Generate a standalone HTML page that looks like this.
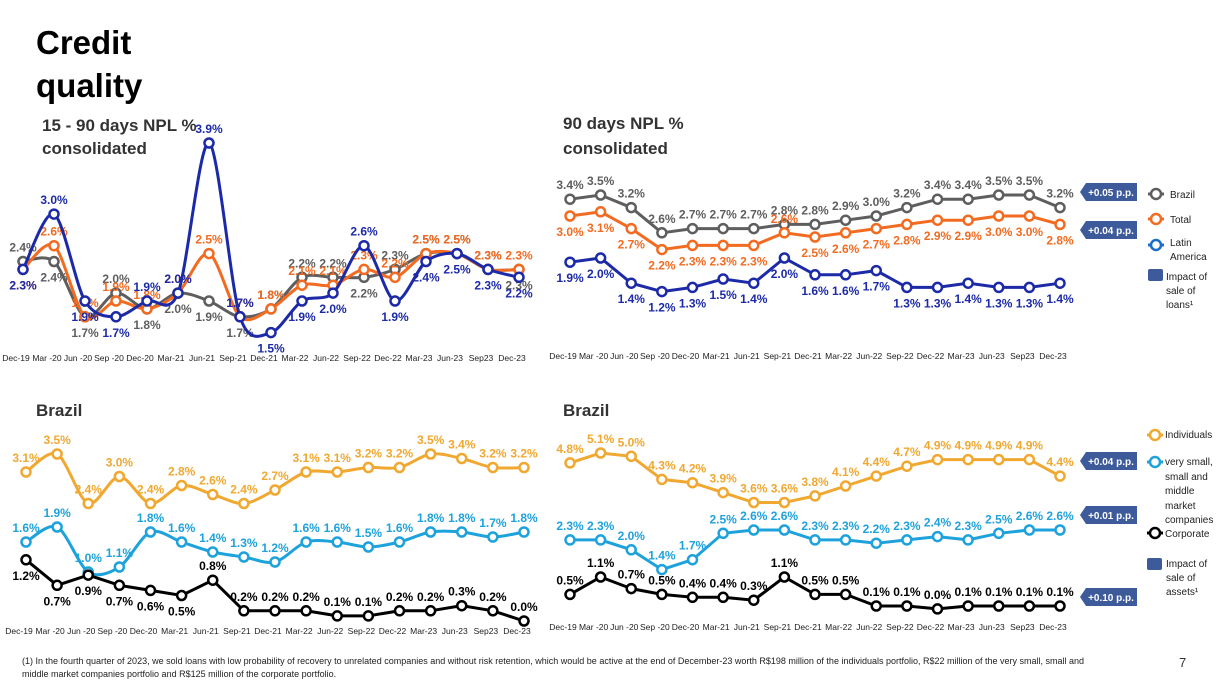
<!DOCTYPE html>
<html><head><meta charset="utf-8"><style>
body{margin:0;width:1218px;height:685px;overflow:hidden;background:#fff;font-family:"Liberation Sans",sans-serif;}
svg{position:absolute;left:0;top:0}
</style></head><body>
<svg id="s" width="1218" height="685" viewBox="0 0 1218 685">
<text x="36" y="54" font-size="33" font-weight="bold" fill="#000">Credit</text>
<text x="36" y="97" font-size="33" font-weight="bold" fill="#000">quality</text>
<text x="42" y="131" font-size="17" font-weight="bold" fill="#333">15 - 90 days NPL %</text>
<text x="42" y="154" font-size="17" font-weight="bold" fill="#333">consolidated</text>
<text x="563" y="129" font-size="17" font-weight="bold" fill="#333">90 days NPL %</text>
<text x="563" y="154" font-size="17" font-weight="bold" fill="#333">consolidated</text>
<text x="36" y="416" font-size="17" font-weight="bold" fill="#333">Brazil</text>
<text x="563" y="416" font-size="17" font-weight="bold" fill="#333">Brazil</text>
<g font-size="9" fill="#222">
<text x="22" y="664">(1) In the fourth quarter of 2023, we sold loans with low probability of recovery to unrelated companies and without risk retention, which would be active at the end of December-23 worth R$198 million of the individuals portfolio, R$22 million of the very small, small and</text>
<text x="22" y="677">middle market companies portfolio and R$125 million of the corporate portfolio.</text>
</g>
<text x="1179" y="667" font-size="13" fill="#333">7</text>
</svg>
<script>
const categories=["Dec-19","Mar -20","Jun -20","Sep -20","Dec-20","Mar-21","Jun-21","Sep-21","Dec-21","Mar-22","Jun-22","Sep-22","Dec-22","Mar-23","Jun-23","Sep23","Dec-23"];
// top-left 15-90 days consolidated
const tlBrazil=[2.4,2.4,1.7,2.0,1.8,2.0,1.9,1.7,1.8,2.2,2.2,2.2,2.3,2.5,2.5,2.3,2.3];
const tlTotal=[2.3,2.6,1.7,1.9,1.8,2.0,2.5,1.7,1.8,2.1,2.1,2.3,2.2,2.5,2.5,2.3,2.3];
const tlLatam=[2.3,3.0,1.9,1.7,1.9,2.0,3.9,1.7,1.5,1.9,2.0,2.6,1.9,2.4,2.5,2.3,2.2];
const tlBrazilPos="abbabbbbaaabaaaab";
const tlTotalPos="baaaaaaaaaaaaaaaa";
const tlLatamPos="babbaaaabbbabbbbb";
// top-right 90 days consolidated
const trBrazil=[3.4,3.5,3.2,2.6,2.7,2.7,2.7,2.8,2.8,2.9,3.0,3.2,3.4,3.4,3.5,3.5,3.2];
const trTotal=[3.0,3.1,2.7,2.2,2.3,2.3,2.3,2.6,2.5,2.6,2.7,2.8,2.9,2.9,3.0,3.0,2.8];
const trLatam=[1.9,2.0,1.4,1.2,1.3,1.5,1.4,2.0,1.6,1.6,1.7,1.3,1.3,1.4,1.3,1.3,1.4];
const trBrazilPos="aaaaaaaaaaaaaaaaa";
const trTotalPos="bbbbbbbabbbbbbbbb";
const trLatamPos="bbbbbbbbbbbbbbbbb";
// bottom-left Brazil 15-90
const blIndividuals=[3.1,3.5,2.4,3.0,2.4,2.8,2.6,2.4,2.7,3.1,3.1,3.2,3.2,3.5,3.4,3.2,3.2];
const blSmes=[1.6,1.9,1.0,1.1,1.8,1.6,1.4,1.3,1.2,1.6,1.6,1.5,1.6,1.8,1.8,1.7,1.8];
const blCorporate=[1.2,0.7,0.9,0.7,0.6,0.5,0.8,0.2,0.2,0.2,0.1,0.1,0.2,0.2,0.3,0.2,0.0];
const blIndividualsPos="aaaaaaaaaaaaaaaaa";
const blSmesPos="aaaaaaaaaaaaaaaaa";
const blCorporatePos="bbbbbbaaaaaaaaaaa";
// bottom-right Brazil 90 days
const brIndividuals=[4.8,5.1,5.0,4.3,4.2,3.9,3.6,3.6,3.8,4.1,4.4,4.7,4.9,4.9,4.9,4.9,4.4];
const brSmes=[2.3,2.3,2.0,1.4,1.7,2.5,2.6,2.6,2.3,2.3,2.2,2.3,2.4,2.3,2.5,2.6,2.6];
const brCorporate=[0.5,1.1,0.7,0.5,0.4,0.4,0.3,1.1,0.5,0.5,0.1,0.1,0.0,0.1,0.1,0.1,0.1];
const brIndividualsPos="aaaaaaaaaaaaaaaaa";
const brSmesPos="aaaaaaaaaaaaaaaaa";
const brCorporatePos="aaaaaaaaaaaaaaaaa";

const NS="http://www.w3.org/2000/svg";
const svg=document.getElementById('s');
function mk(tag,attrs){const e=document.createElementNS(NS,tag);for(const k in attrs)e.setAttribute(k,attrs[k]);return e;}
function xScale(x0,x1){return i=>x0+(x1-x0)*i/(categories.length-1);}
function yScale(v0,y0,k){return v=>y0+(v0-v)*k;}
function smooth(pts){let d="M"+pts[0][0]+","+pts[0][1];for(let i=0;i<pts.length-1;i++){const p0=pts[i-1]||pts[i],p1=pts[i],p2=pts[i+1],p3=pts[i+2]||p2;const t=0.15;d+=" C"+(p1[0]+(p2[0]-p0[0])*t)+","+(p1[1]+(p2[1]-p0[1])*t)+" "+(p2[0]-(p3[0]-p1[0])*t)+","+(p2[1]-(p3[1]-p1[1])*t)+" "+p2[0]+","+p2[1];}return d;}
function series(name,vals,pos,x,y,color,curve,lblColor){
  const g=mk('g',{});
  
  
  svg.appendChild(g);
  const pts=vals.map((v,i)=>[x(i),y(v)]);
  const line=mk('path',{d:curve?smooth(pts):"M"+pts.map(p=>p.join(',')).join(' L'),fill:'none',stroke:color,'stroke-width':3});
  
  
  g.appendChild(line);
  pts.forEach((p,i)=>{
    const c=mk('circle',{cx:p[0],cy:p[1],r:4.5,fill:'#fff',stroke:color,'stroke-width':2.5});
    
    
    g.appendChild(c);
    const t=mk('text',{x:p[0],y:pos[i]==='a'?p[1]-10:p[1]+20,'text-anchor':'middle','font-size':12,'font-weight':'bold',fill:lblColor||color});
    t.textContent=vals[i].toFixed(1)+'%';
    
    
    g.appendChild(t);
  });
}
function axis(name,x,y){
  const g=mk('g',{'font-size':8.5,fill:'#222'});
  
  
  svg.appendChild(g);
  categories.forEach((c,i)=>{const t=mk('text',{x:x(i)-7,y:y,'text-anchor':'middle'});t.textContent=c;
    
    
    g.appendChild(t);});
}
const BLUE='#1c2aa8',ORANGE='#f26b21',GRAY='#5e5e5e',YEL='#f0a830',LB='#1ea2dc',BLK='#000';
let x=xScale(23,519),y=yScale(3.9,143,79);
series('tl-brazil',tlBrazil,tlBrazilPos,x,y,GRAY,true);
series('tl-total',tlTotal,tlTotalPos,x,y,ORANGE,true);
series('tl-latam',tlLatam,tlLatamPos,x,y,BLUE,true);
axis('tl',x,361);
x=xScale(570,1060);y=yScale(3.0,216,42);
series('tr-brazil',trBrazil,trBrazilPos,x,y,GRAY,false);
series('tr-total',trTotal,trTotalPos,x,y,ORANGE,false);
series('tr-latam',trLatam,trLatamPos,x,y,BLUE,false);
axis('tr',x,359);
x=xScale(26,524);
series('bl-individuals',blIndividuals,blIndividualsPos,x,yScale(3.5,454,45),YEL,true);
series('bl-smes',blSmes,blSmesPos,x,yScale(1.9,527,50),LB,true);
series('bl-corporate',blCorporate,blCorporatePos,x,yScale(0,621,51),BLK,false);
axis('bl',x,634);
x=xScale(570,1060);
series('br-individuals',brIndividuals,brIndividualsPos,x,yScale(5.1,453,33),YEL,false);
series('br-smes',brSmes,brSmesPos,x,yScale(2.6,530,33),LB,false);
series('br-corporate',brCorporate,brCorporatePos,x,yScale(1.1,577,29),BLK,false);
axis('br',x,630);
</script>
<svg width="1218" height="685" viewBox="0 0 1218 685" style="pointer-events:none">
<defs><g id="b"><path d="M6,0 H57 V18 H6 L0,9 Z" fill="#3d5a9b"/></g></defs>
<g><use href="#b" x="1080" y="183"/><text x="1111" y="196" font-size="10" font-weight="bold" fill="#fff" text-anchor="middle">+0.05 p.p.</text></g>
<g><use href="#b" x="1080" y="221"/><text x="1111" y="234" font-size="10" font-weight="bold" fill="#fff" text-anchor="middle">+0.04 p.p.</text></g>
<g><use href="#b" x="1080" y="452"/><text x="1111" y="465" font-size="10" font-weight="bold" fill="#fff" text-anchor="middle">+0.04 p.p.</text></g>
<g><use href="#b" x="1080" y="506"/><text x="1111" y="519" font-size="10" font-weight="bold" fill="#fff" text-anchor="middle">+0.01 p.p.</text></g>
<g><use href="#b" x="1080" y="588"/><text x="1111" y="601" font-size="10" font-weight="bold" fill="#fff" text-anchor="middle">+0.10 p.p.</text></g>
<g font-size="10" fill="#222">
<line x1="1148" y1="194" x2="1164" y2="194" stroke="#5e5e5e" stroke-width="3"/><circle cx="1156" cy="194" r="5" fill="#fff" stroke="#5e5e5e" stroke-width="2.5"/><text x="1170" y="198">Brazil</text>
<line x1="1148" y1="219" x2="1164" y2="219" stroke="#f26b21" stroke-width="3"/><circle cx="1156" cy="219" r="5" fill="#fff" stroke="#f26b21" stroke-width="2.5"/><text x="1170" y="223">Total</text>
<line x1="1148" y1="245" x2="1164" y2="245" stroke="#1c6fc8" stroke-width="3"/><circle cx="1156" cy="245" r="5" fill="#fff" stroke="#1c6fc8" stroke-width="2.5"/><text x="1170" y="246">Latin</text><text x="1170" y="260">America</text>
<rect x="1148" y="269" width="15" height="12" rx="2" fill="#3d5a9b"/><text x="1166" y="280">Impact of</text><text x="1166" y="294">sale of</text><text x="1166" y="308">loans¹</text>
</g>
<g font-size="10" fill="#222">
<line x1="1147" y1="435" x2="1163" y2="435" stroke="#f0a830" stroke-width="3"/><circle cx="1155" cy="435" r="5" fill="#fff" stroke="#f0a830" stroke-width="2.5"/><text x="1165" y="438">Individuals</text>
<line x1="1147" y1="462" x2="1163" y2="462" stroke="#1ea2dc" stroke-width="3"/><circle cx="1155" cy="462" r="5" fill="#fff" stroke="#1ea2dc" stroke-width="2.5"/><text x="1165" y="465">very small,</text><text x="1165" y="480">small and</text><text x="1165" y="494">middle</text><text x="1165" y="509">market</text><text x="1165" y="523">companies</text>
<line x1="1147" y1="533" x2="1163" y2="533" stroke="#000" stroke-width="3"/><circle cx="1155" cy="533" r="5" fill="#fff" stroke="#000" stroke-width="2.5"/><text x="1165" y="537">Corporate</text>
<rect x="1147" y="558" width="15" height="12" rx="2" fill="#3d5a9b"/><text x="1166" y="567">Impact of</text><text x="1166" y="581">sale of</text><text x="1166" y="595">assets¹</text>
</g>
</svg>
</body></html>
